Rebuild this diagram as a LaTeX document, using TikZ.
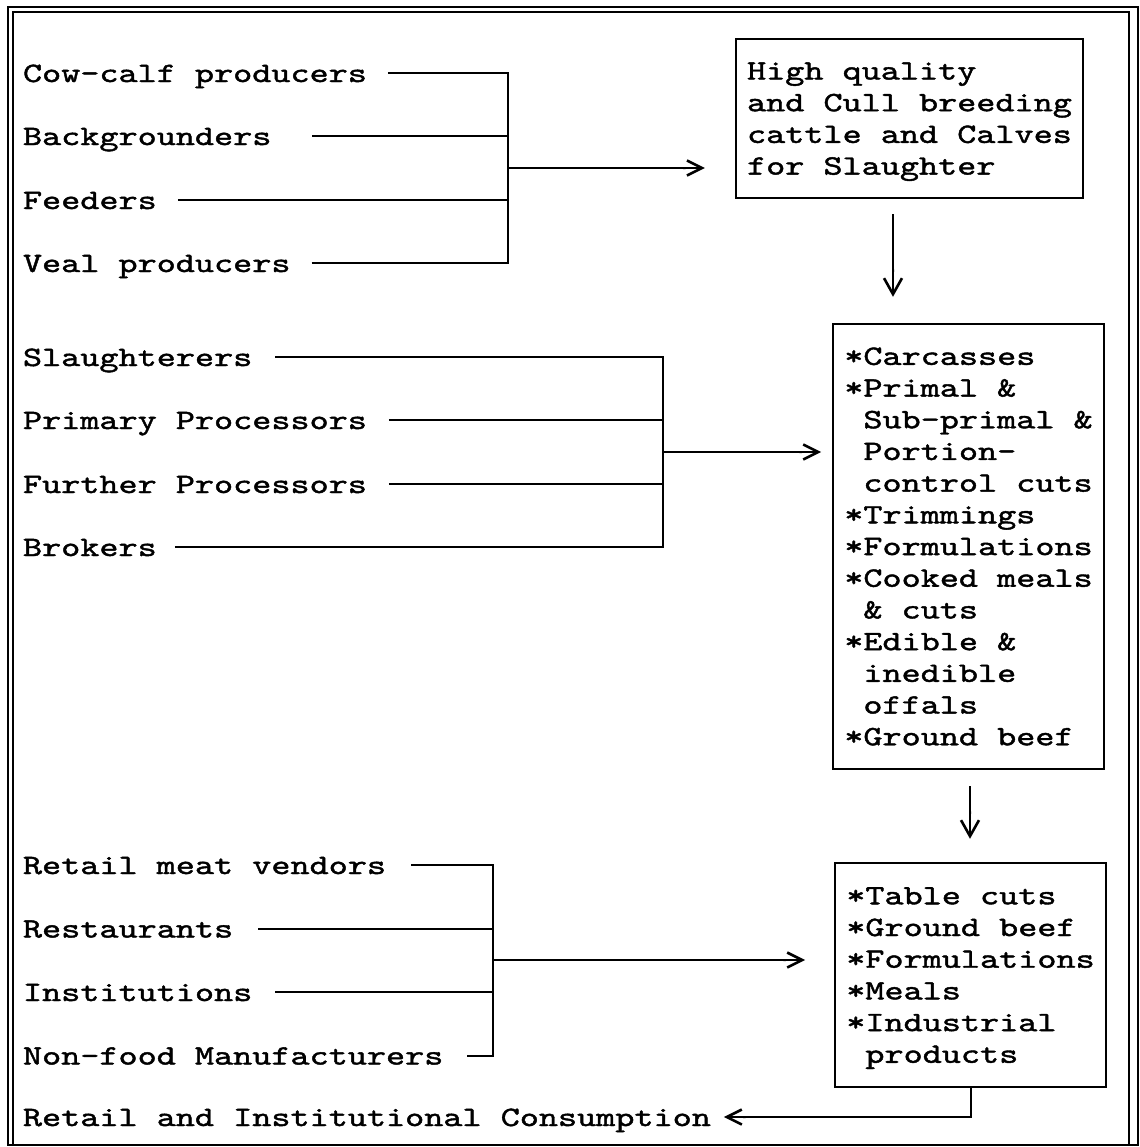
\documentclass[tikz,border=0pt]{standalone}
\usepackage{fontspec}
\newfontfamily\typer[FakeStretch=1.3,FakeBold=1.5]{lmmono10-regular.otf}
\usetikzlibrary{arrows.meta,positioning}
\newcommand{\indt}{\hphantom{*}}
\newcommand{\nodp}[1]{\raisebox{0pt}[\height][0pt]{#1}}

\begin{document}
\begin{tikzpicture}[
  x=0.5pt, y=-0.5pt,
  font=\typer\fontsize{14pt}{15.85pt}\selectfont,
  line width=1pt,
  lbl/.style={anchor=west, inner sep=0pt, text height=9pt, text depth=0pt},
  box/.style={draw, line width=1.2pt, align=left, inner xsep=5.5pt, inner ysep=0pt},
  arr/.style={-{Butt Cap[sep=0pt]Straight Barb[length=7.5pt,width=7.5pt,line width=1.3pt,sep=0pt]}},
  downarr/.style={-{Butt Cap[sep=2.5pt]Straight Barb[length=8pt,width=9pt,line width=1.3pt,sep=0pt]}}
]
\useasboundingbox (0,0) rectangle (1140,1147);

% frame
\draw (8,7) rectangle (1138,1145);
\draw[line width=0.7pt] (13,1145) -- (13,12) -- (1129,12) -- (1129,1145);

% producers
\node[lbl] (cowcalf) at (22,73) {Cow-calf producers};
\node[lbl] (backgr) at (22,136) {Backgrounders};
\node[lbl] (feeders) at (22,200) {Feeders};
\node[lbl] (veal) at (22,263) {Veal producers};
\coordinate (bus1) at (508,168);

% processors
\node[lbl] (slaught) at (22,357) {Slaughterers};
\node[lbl] (primary) at (22,420) {Primary Processors};
\node[lbl] (further) at (22,484) {Further Processors};
\node[lbl] (brokers) at (22,547) {Brokers};
\coordinate (bus2) at (663,452);

% users
\node[lbl] (retail) at (22,865) {Retail meat vendors};
\node[lbl] (restau) at (22,928.5) {Restaurants};
\node[lbl] (instit) at (22,992) {Institutions};
\node[lbl] (nonfood) at (22,1055.5) {Non-food Manufacturers};
\coordinate (bus3) at (493,960);
\node[lbl] (consump) at (22,1117) {Retail and Institutional Consumption};

% products
\node[box, minimum height=79.5pt] (cattle) at (909.5,118.5) {High quality\\and Cull breeding\\cattle and Calves\\\nodp{for Slaughter}};
\node[box, minimum height=222.5pt] (meatcuts) at (968.5,546.5) {*Carcasses\\*Primal \&\\\indt Sub-primal \&\\\indt Portion-\\\indt control cuts\\*Trimmings\\*Formulations\\*Cooked meals\\\indt \& cuts\\*Edible \&\\\indt inedible\\\indt offals\\*Ground beef};
\node[box, minimum height=112pt] (retailcuts) at (970.5,975) {*Table cuts\\*Ground beef\\*Formulations\\*Meals\\*Industrial\\\nodp{\indt products}};

\draw ([xshift=10pt]cowcalf.east) -| (bus1);
\draw ([xshift=20pt]backgr.east) -- (backgr.east -| bus1);
\draw ([xshift=10pt]feeders.east) -- (feeders.east -| bus1);
\draw ([xshift=10pt]veal.east) -| (bus1);
\draw[arr, shorten >=15pt] (bus1) -- (bus1 -| cattle.west);

\draw ([xshift=11pt]slaught.east) -| (bus2);
\draw ([xshift=10.5pt]primary.east) -- (primary.east -| bus2);
\draw ([xshift=10.5pt]further.east) -- (further.east -| bus2);
\draw ([xshift=8.5pt]brokers.east) -| (bus2);
\draw[arr, shorten >=5.5pt] (bus2) -- (bus2 -| meatcuts.west);

\draw ([xshift=12pt]retail.east) -| (bus3);
\draw ([xshift=12pt]restau.east) -- (restau.east -| bus3);
\draw ([xshift=11pt]instit.east) -- (instit.east -| bus3);
\draw ([xshift=11.5pt]nonfood.east) -| (bus3);
\draw[arr, shorten >=14.5pt] (bus3) -- (bus3 -| retailcuts.west);

\draw[downarr, shorten <=7.5pt, shorten >=13pt] ([xshift=-8.25pt]cattle.south) -- ([xshift=-8.25pt]cattle.south |- meatcuts.north);
\draw[downarr, shorten <=8pt, shorten >=11.5pt] ([xshift=0.75pt]meatcuts.south) -- ([xshift=0.75pt]meatcuts.south |- retailcuts.north);
\draw[arr] (retailcuts.south) |- ([xshift=6pt]consump.east);

\end{tikzpicture}
\end{document}
